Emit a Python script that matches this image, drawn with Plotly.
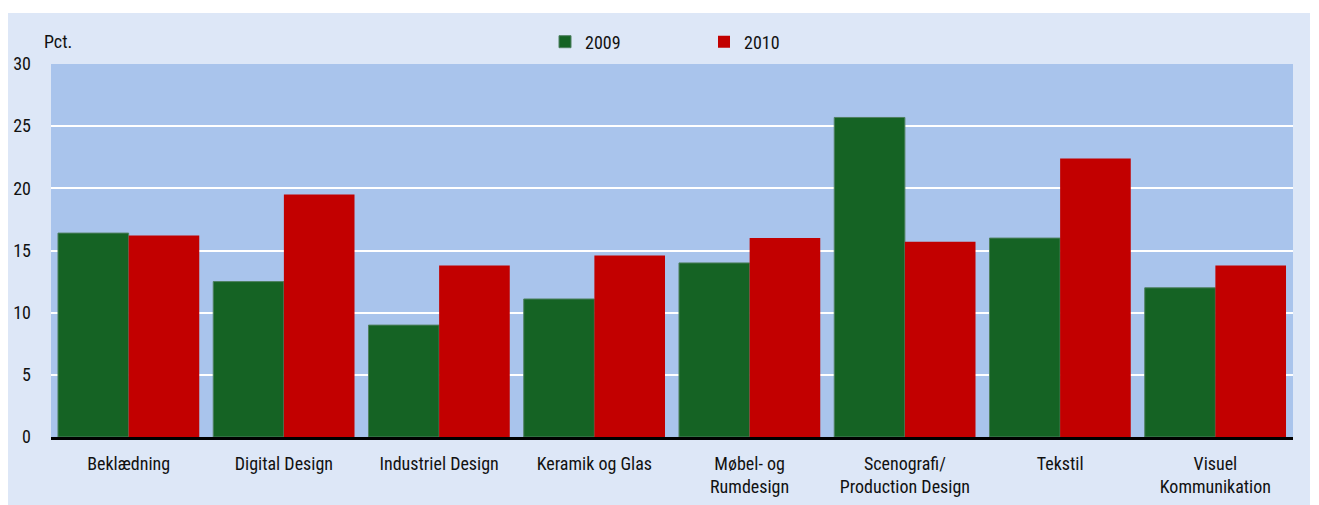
import plotly.graph_objects as go

categories = ["Beklædning", "Digital Design", "Industriel Design", "Keramik og Glas",
              "Møbel- og<br>Rumdesign", "Scenografi/<br>Production Design", "Tekstil",
              "Visuel<br>Kommunikation"]
values_2009 = [16.4, 12.5, 9.0, 11.1, 14.0, 25.7, 16.0, 12.0]
values_2010 = [16.2, 19.5, 13.8, 14.6, 16.0, 15.7, 22.4, 13.8]
y_ticks = [0, 5, 10, 15, 20, 25, 30]

FONT = "Roboto Condensed, Liberation Sans Narrow, Roboto, sans-serif"

fig = go.Figure()
fig.add_trace(go.Bar(name="2009", x=categories, y=values_2009,
                     marker=dict(color="#156324", line=dict(color="#4f8060", width=1))))
fig.add_trace(go.Bar(name="2010", x=categories, y=values_2010,
                     marker=dict(color="#c20000", line=dict(width=0))))

OFF = 8  # page body margin
W, H = 1302, 497
L, R, T, B = 43, 17, 56, 68
pw, ph = W - L - R, H - T - B

def px_x(sx):
    return (sx - OFF - L) / pw

def px_y(sy):
    return (H - B - (sy - OFF)) / ph

# white strip at top of the figure
fig.add_shape(type="rect", xref="paper", yref="paper", layer="above",
              x0=px_x(0), x1=px_x(1330), y0=px_y(13), y1=px_y(0),
              fillcolor="white", line=dict(width=0))

fig.add_annotation(text="Pct.", xref="paper", yref="paper", x=px_x(42), y=px_y(42),
                   xanchor="left", yanchor="middle", showarrow=False,
                   font=dict(family=FONT, size=18, color="#111"))

fig.update_layout(
    width=W, height=H,
    margin=dict(l=L, r=R, t=T, b=B),
    paper_bgcolor="#dde7f7",
    plot_bgcolor="#a9c4ec",
    barmode="group",
    bargap=0.09,
    bargroupgap=0,
    font=dict(family=FONT, size=18, color="#111"),
    legend=dict(orientation="h", x=px_x(545), y=px_y(42), xanchor="left", yanchor="middle",
                entrywidth=114, entrywidthmode="pixels", bgcolor="rgba(0,0,0,0)",
                font=dict(family=FONT, size=18), traceorder="normal"),
    xaxis=dict(showgrid=False, ticks="", showline=True, linecolor="black", linewidth=3,
               tickfont=dict(family=FONT, size=18), ticklabelstandoff=8, automargin=False),
    yaxis=dict(range=[0, 30], tickvals=y_ticks, showgrid=True, gridcolor="white", gridwidth=2,
               zeroline=False, showline=False, ticks="", ticklabelstandoff=19,
               tickfont=dict(family=FONT, size=18), automargin=False),
)

fig.write_html("out.html")
